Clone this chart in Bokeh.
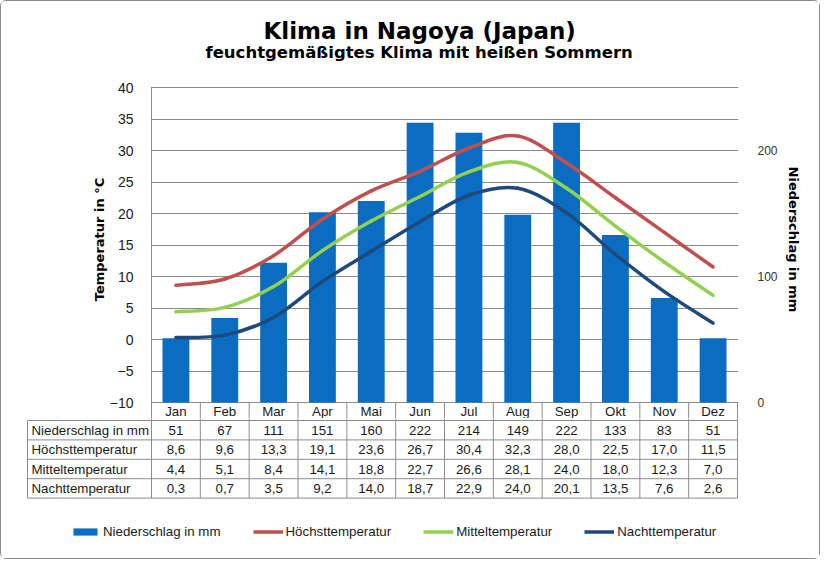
from bokeh.plotting import figure
from bokeh.models import (Range1d, LinearAxis, FixedTicker, Grid, Title, ColumnDataSource,
                          Legend, LegendItem)
from bokeh.layouts import column
from bokeh.core.properties import value
from bokeh.embed import file_html
from bokeh.resources import INLINE

# ---------------- data ----------------
months = ["Jan", "Feb", "Mar", "Apr", "Mai", "Jun", "Jul", "Aug", "Sep", "Okt", "Nov", "Dez"]
precip = [51, 67, 111, 151, 160, 222, 214, 149, 222, 133, 83, 51]
t_max = [8.6, 9.6, 13.3, 19.1, 23.6, 26.7, 30.4, 32.3, 28.0, 22.5, 17.0, 11.5]
t_mean = [4.4, 5.1, 8.4, 14.1, 18.8, 22.7, 26.6, 28.1, 24.0, 18.0, 12.3, 7.0]
t_night = [0.3, 0.7, 3.5, 9.2, 14.0, 18.7, 22.9, 24.0, 20.1, 13.5, 7.6, 2.6]
temp_ticks = [-10, -5, 0, 5, 10, 15, 20, 25, 30, 35, 40]
rain_ticks = [0, 100, 200]
row_labels = ["Niederschlag in mm", "Höchsttemperatur", "Mitteltemperatur", "Nachttemperatur"]
series_labels = ["Niederschlag in mm", "Höchsttemperatur", "Mitteltemperatur", "Nachttemperatur"]

# ---------------- style ----------------
BLUE = "#0A6DC1"
RED = "#C0504D"
GREEN = "#92D050"
NAVY = "#1F497D"
GRID = "#8C8C8C"
TXT = "#1A1A1A"
FONT_S = "Liberation Sans"
FONT = value(FONT_S)
BOLD = "DejaVu Sans"

W = 818
HA, HB = 417, 140
CW = 586 / 12          # px per month column
PXD = 6.3              # px per degree
MMPX = 250 / 315       # mm per px
TOP = 59               # border above the plot frame

# ---------------- top chart ----------------
frame_h = HA - TOP
y_end = 40 + 27 / PXD
y_start = y_end - frame_h / PXD
rain_end = 250 + 27 * MMPX
rain_start = rain_end - frame_h * MMPX

pa = figure(width=W, height=HA, output_backend="svg", toolbar_location=None, title=None,
            x_axis_location=None, y_axis_location=None,
            x_range=Range1d(-1 / CW, 12 + 1 / CW), y_range=Range1d(y_start, y_end),
            min_border_left=149, min_border_right=81, min_border_top=TOP, min_border_bottom=0)
pa.extra_y_ranges = {"rain": Range1d(rain_start, rain_end)}
pa.center = [c for c in pa.center if not isinstance(c, Grid)]
pa.outline_line_color = None
pa.background_fill_color = "white"
pa.border_fill_color = "white"
try:
    pa.frame_align = False
except Exception:
    pass

pa.add_layout(Grid(dimension=1, ticker=FixedTicker(ticks=temp_ticks), grid_line_color=GRID,
                   grid_line_width=1))

ax_l = LinearAxis(ticker=FixedTicker(ticks=temp_ticks), axis_line_color=None,
                  major_tick_line_color=None, minor_tick_line_color=None,
                  major_label_text_font=FONT_S, major_label_text_font_size="14px",
                  major_label_text_color=TXT, major_label_standoff=11)
pa.add_layout(ax_l, "left")
ax_lt = LinearAxis(ticker=FixedTicker(ticks=[]), axis_line_color=None,
                   major_tick_line_color=None, minor_tick_line_color=None,
                   axis_label="Temperatur in °C", axis_label_standoff=0,
                   axis_label_text_font=BOLD, axis_label_text_font_style="bold",
                   axis_label_text_font_size="13px", axis_label_text_color="black")
pa.add_layout(ax_lt, "left")

ax_r = LinearAxis(y_range_name="rain", ticker=FixedTicker(ticks=rain_ticks), axis_line_color=None,
                  major_tick_line_color=None, minor_tick_line_color=None,
                  major_label_text_font=FONT_S, major_label_text_font_size="12px",
                  major_label_text_color="#333333", major_label_standoff=13)
pa.add_layout(ax_r, "right")
ax_rt = LinearAxis(y_range_name="rain", ticker=FixedTicker(ticks=[]),
                   axis_line_color=None, major_tick_line_color=None, minor_tick_line_color=None,
                   axis_label="Niederschlag in mm", axis_label_standoff=5,
                   axis_label_text_font=BOLD, axis_label_text_font_style="bold",
                   axis_label_text_font_size="13px", axis_label_text_color="black")
pa.add_layout(ax_rt, "right")

pa.add_layout(Title(text="feuchtgemäßigtes Klima mit heißen Sommern", align="left",
                    text_font=BOLD, text_font_style="bold", text_font_size="16.5px",
                    text_color="black", offset=55, standoff=-2), "above")
pa.add_layout(Title(text="Klima in Nagoya (Japan)", align="left",
                    text_font=BOLD, text_font_style="bold", text_font_size="23px",
                    text_color="black", offset=113, standoff=-4), "above")

xs = [i + 0.5 for i in range(12)]
src = ColumnDataSource(dict(x=xs, precip=precip))
pa.vbar(x="x", top="precip", bottom=0, width=0.55, y_range_name="rain",
        fill_color=BLUE, line_color=None, source=src)


def bezier_source(vals):
    n = len(vals)
    d = dict(x0=[], y0=[], x1=[], y1=[], cx0=[], cy0=[], cx1=[], cy1=[])
    for i in range(n - 1):
        p0 = (xs[max(i - 1, 0)], vals[max(i - 1, 0)])
        p1 = (xs[i], vals[i])
        p2 = (xs[i + 1], vals[i + 1])
        p3 = (xs[min(i + 2, n - 1)], vals[min(i + 2, n - 1)])
        d["x0"].append(p1[0]); d["y0"].append(p1[1])
        d["x1"].append(p2[0]); d["y1"].append(p2[1])
        d["cx0"].append(p1[0] + (p2[0] - p0[0]) / 6)
        d["cy0"].append(p1[1] + (p2[1] - p0[1]) / 6)
        d["cx1"].append(p2[0] - (p3[0] - p1[0]) / 6)
        d["cy1"].append(p2[1] - (p3[1] - p1[1]) / 6)
    return ColumnDataSource(d)


for vals, col in [(t_max, RED), (t_mean, GREEN), (t_night, NAVY)]:
    pa.bezier(x0="x0", y0="y0", x1="x1", y1="y1", cx0="cx0", cy0="cy0", cx1="cx1", cy1="cy1",
              line_color=col, line_width=3.5, line_cap="round", source=bezier_source(vals))

# header row of the table (month names) inside the top figure
head_y = -10 - 9 / PXD
pa.segment(x0=[0], y0=[y_start], x1=[0], y1=[40], line_color=GRID, line_width=1)
pa.segment(x0=list(range(1, 13)), y0=[-10] * 12, x1=list(range(1, 13)), y1=[y_start] * 12,
           line_color=GRID, line_width=1)
pa.text(x=xs, y=[head_y] * 12, text=months, text_align="center", text_baseline="middle",
        text_font=FONT, text_font_size="13.3px", text_color=TXT)

# ---------------- table + legend ----------------
pb = figure(width=W, height=HB, output_backend="svg", toolbar_location=None, title=None,
            x_axis_location=None, y_axis_location=None,
            x_range=Range1d(-125 / CW, 12 + 2 / CW), y_range=Range1d(-HB, 0),
            min_border_left=25, min_border_right=80, min_border_top=0, min_border_bottom=0)
pb.center = [c for c in pb.center if not isinstance(c, Grid)]
pb.outline_line_color = None
pb.border_fill_color = "white"
try:
    pb.frame_align = False
except Exception:
    pass

row_h = 19.4
lines_y = [-2 - k * row_h for k in range(5)]
x_left = -124 / CW
pb.segment(x0=[x_left] * 5, y0=lines_y, x1=[12] * 5, y1=lines_y, line_color=GRID, line_width=1)
pb.segment(x0=[x_left], y0=[lines_y[0]], x1=[x_left], y1=[lines_y[-1]], line_color=GRID, line_width=1)
pb.segment(x0=list(range(13)), y0=[0] * 13, x1=list(range(13)), y1=[lines_y[-1]] * 13,
           line_color=GRID, line_width=1)

fmt = lambda v: f"{v:.1f}".replace(".", ",")
rows = [[str(v) for v in precip], [fmt(v) for v in t_max], [fmt(v) for v in t_mean],
        [fmt(v) for v in t_night]]
for k, (lab, vals) in enumerate(zip(row_labels, rows)):
    yc = (lines_y[k] + lines_y[k + 1]) / 2
    pb.text(x=[x_left + 4 / CW], y=[yc], text=[lab], text_align="left", text_baseline="middle",
            text_font=FONT, text_font_size="13.3px", text_color=TXT)
    pb.text(x=xs, y=[yc] * 12, text=vals, text_align="center", text_baseline="middle",
            text_font=FONT, text_font_size="13.3px", text_color=TXT)

# legend swatches (renderers carry no visible data)
nan = float("nan")
lr = [pb.vbar(x=[nan], top=[nan], width=0.5, fill_color=BLUE, line_color=None)]
for col in [RED, GREEN, NAVY]:
    lr.append(pb.line(x=[nan, nan], y=[nan, nan], line_color=col, line_width=3.5))
legend = Legend(items=[LegendItem(label=l, renderers=[r]) for l, r in zip(series_labels, lr)],
                orientation="horizontal", location=(44, 19), padding=0, margin=0, spacing=32,
                label_standoff=3, glyph_width=30, glyph_height=9, label_height=14,
                label_text_font=FONT_S, label_text_font_size="13.3px", label_text_color=TXT,
                border_line_color=None, background_fill_alpha=0)
pb.add_layout(legend)

layout = column(pa, pb, spacing=0,
                styles={"border": "1px solid #8a8a8a", "border-radius": "6px",
                        "background-color": "white"})

open("out.html", "w").write(file_html(layout, INLINE))
